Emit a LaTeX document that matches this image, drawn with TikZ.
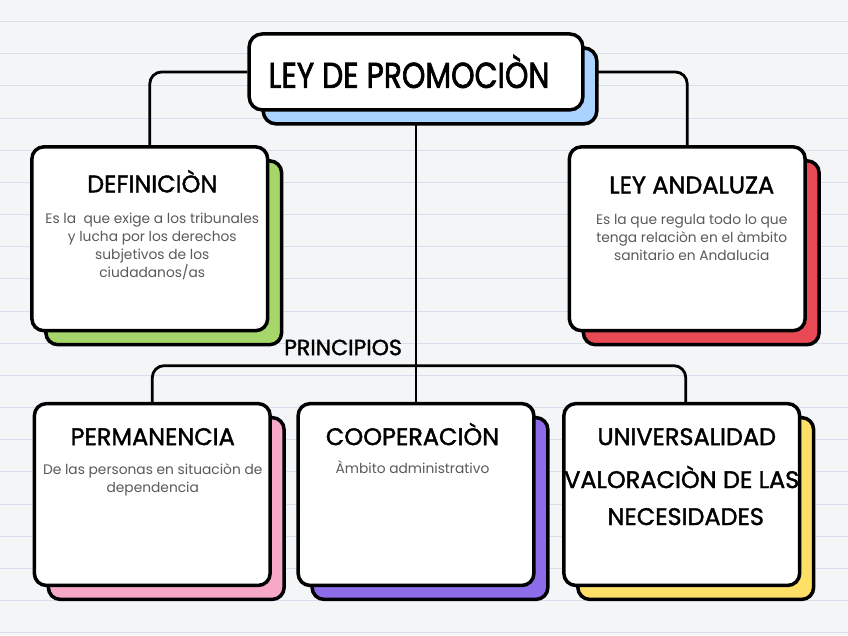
\documentclass[tikz,border=0pt]{standalone}
\usepackage{fontspec}
\setmainfont{Poppins}
\newfontfamily\markerfont[FakeBold=1.6]{Poppins}
\newfontfamily\titlefont[FakeStretch=0.83,FakeBold=1.8]{Poppins}
\usetikzlibrary{positioning,backgrounds}
\definecolor{paper}{HTML}{F4F5F7}
\definecolor{ruling}{HTML}{D7DFEC}
\definecolor{inkgray}{HTML}{5A5A5A}
\definecolor{skyblue}{HTML}{AAD4FF}
\definecolor{lime}{HTML}{A6D66A}
\definecolor{coral}{HTML}{E84A55}
\definecolor{blush}{HTML}{F7A8C6}
\definecolor{violet}{HTML}{8C6CE8}
\definecolor{butter}{HTML}{FFE066}

\begin{document}
\begin{tikzpicture}[x=1pt,y=-1pt,
    card/.style={draw=black,line width=3.5pt,rounded corners=12pt,fill=white,
      inner sep=0pt,minimum width=236pt,minimum height=184pt},
    backcard/.style={preaction={draw=black,line width=3.5pt,fill=#1,
      transform canvas={xshift=14pt,yshift=-14pt}}},
    head/.style={anchor=base,inner sep=0pt,font=\markerfont\fontsize{24}{28}\selectfont},
    blurb/.style={anchor=north,inner sep=0pt,align=center,text=inkgray,
      font=\fontsize{13.8}{18}\selectfont},
    link/.style={draw=black,line width=2.8pt,rounded corners=12pt}]
  % cards
  \node[card,backcard=skyblue,minimum width=334pt,minimum height=76pt,rounded corners=13pt]
    (top) at (416,72) {};
  \node[card,backcard=lime] (def) at (149.5,239) {};
  \node[card,backcard=coral] (and) at (687.5,239) {};
  \node[card,backcard=blush,minimum height=182pt] (perm) at (152,495) {};
  \node[card,backcard=violet,minimum height=182pt] (coop) at (416,495) {};
  \node[card,backcard=butter,minimum height=182pt] (univ) at (682,495) {};
  % texts
  \node[anchor=base,inner sep=0pt,font=\titlefont\fontsize{36}{40}\selectfont]
    (title) at (409,88) {LEY DE PROMOCIÒN};
  \node[head] (defhead) at (152,192.5) {DEFINICIÒN};
  \node[blurb,below=20pt of defhead] (deftext)
    {Es la\ \ que exige a los tribunales\\y lucha por los derechos\\subjetivos de los\\ciudadanos/as};
  \node[head] (andhead) at (692,193.5) {LEY ANDALUZA};
  \node[blurb,below=20pt of andhead] (andtext)
    {Es la que regula todo lo que\\tenga relaciòn en el àmbito\\sanitario en Andalucia};
  \node[head,font=\markerfont\fontsize{22}{26}\selectfont] (principios) at (343,355.5) {PRINCIPIOS};
  \node[head] (permhead) at (152.5,445.5) {PERMANENCIA};
  \node[blurb,below=18.5pt of permhead] (permtext)
    {De las personas en situaciòn de\\dependencia};
  \node[head] (coophead) at (412.5,445.5) {COOPERACIÒN};
  \node[blurb,below=15pt of coophead] (cooptext) {Àmbito administrativo};
  \node[head] (univhead) at (687,445.5) {UNIVERSALIDAD};
  \node[head] (valorhead) at (682,488.5) {VALORACIÒN DE LAS};
  \node[head] (neceshead) at (686,525.5) {NECESIDADES};
  % paper and connectors
  \begin{scope}[on background layer]
    \fill[paper] (0,0) rectangle (848,636);
    \foreach \k in {0,...,19}
      \draw[ruling,line width=0.8pt] (0,{21.5+32.2*\k}) -- (848,{21.5+32.2*\k});
    \coordinate (fork) at (416,366);
    \draw[link] (top.west) -| (def.north);
    \draw[link] (top.east) -| (and.north);
    \draw[link] (top.south) -- (coop.north);
    \draw[link] (perm.north) |- (fork) -| ([xshift=4pt]univ.north);
  \end{scope}
\end{tikzpicture}
\end{document}
